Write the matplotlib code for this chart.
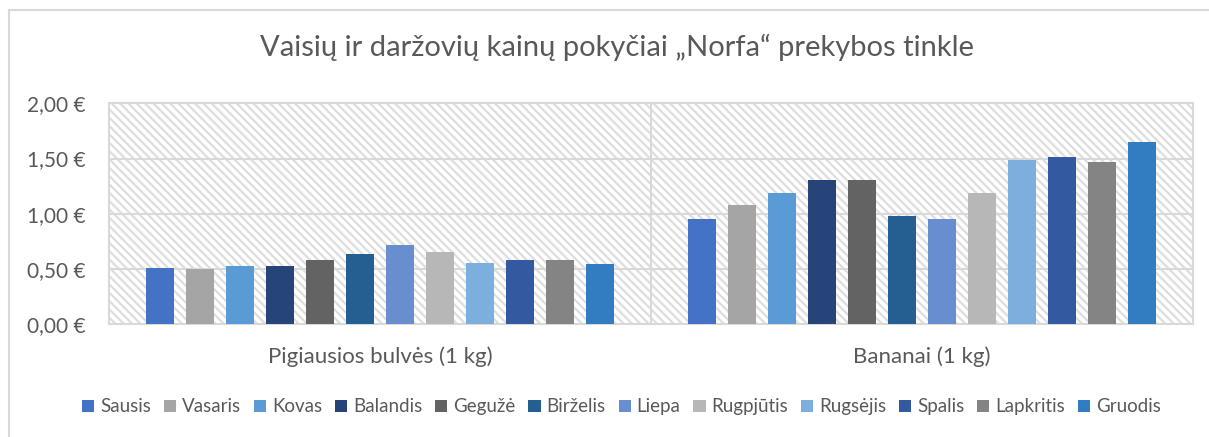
import matplotlib
matplotlib.use("Agg")
import matplotlib.pyplot as plt
from matplotlib.patches import Rectangle
from matplotlib.lines import Line2D
from matplotlib.ticker import FuncFormatter
import numpy as np

# Duomenys
kategorijos = ["Pigiausios bulvės (1 kg)", "Bananai (1 kg)"]
menesiai = ["Sausis", "Vasaris", "Kovas", "Balandis", "Gegužė", "Birželis",
            "Liepa", "Rugpjūtis", "Rugsėjis", "Spalis", "Lapkritis", "Gruodis"]
bulves = [0.51, 0.50, 0.53, 0.53, 0.585, 0.64, 0.715, 0.655, 0.55, 0.585, 0.585, 0.545]
bananai = [0.955, 1.08, 1.185, 1.31, 1.31, 0.98, 0.955, 1.185, 1.485, 1.515, 1.465, 1.645]
spalvos = ["#4472C4", "#A5A5A5", "#5B9BD5", "#264478", "#636363", "#255E91",
           "#698ED0", "#B7B7B7", "#7CAFDD", "#335AA1", "#848484", "#327DC2"]

tekstas = "#595959"
pilka = "#D9D9D9"

plt.rcParams['font.family'] = ['Lato', 'DejaVu Sans']
plt.rcParams['hatch.color'] = "#DEDEDE"
plt.rcParams['hatch.linewidth'] = 1.6

fig = plt.figure(figsize=(12.09, 4.37), dpi=100)
ax = fig.add_axes([0.0902, 0.258, 0.8966, 0.5057])

# Fonas su istrizomis linijomis
ax.add_patch(Rectangle((0, 0), 1, 1, transform=ax.transAxes, facecolor="white",
                       edgecolor="#DEDEDE", hatch="\\\\\\\\", lw=0, zorder=0))

zingsnis = 40 / 542
plotis = 27.6 / 542
x = np.arange(len(kategorijos))
for i, men in enumerate(menesiai):
    reiksmes = [bulves[i], bananai[i]]
    ax.bar(x + (i - 5.5) * zingsnis, reiksmes, width=plotis, color=spalvos[i],
           label=men, zorder=3)

ax.set_xlim(-0.5, 1.5)
ax.set_ylim(0, 2.0)
ax.set_yticks([0, 0.5, 1.0, 1.5, 2.0])
ax.yaxis.set_major_formatter(FuncFormatter(lambda v, p: f"{v:.2f}".replace(".", ",") + " €"))
ax.set_xticks(x)
ax.set_xticklabels(kategorijos)
ax.tick_params(axis="both", length=0, colors=tekstas)
ax.tick_params(axis="x", pad=16, labelsize=16)
ax.tick_params(axis="y", pad=17, labelsize=15)
ax.set_facecolor("none")

for y in [0.5, 1.0, 1.5]:
    ax.axhline(y, color=pilka, lw=1.5, zorder=1)
ax.axvline(0.5, color=pilka, lw=1.5, zorder=1)
for s in ax.spines.values():
    s.set_color(pilka)
    s.set_linewidth(1.5)

fig.text(0.51, 0.892, "Vaisių ir daržovių kainų pokyčiai „Norfa“ prekybos tinkle",
         ha="center", va="center", fontsize=21, color=tekstas)

fig.legend(loc="center", bbox_to_anchor=(0.514, 0.069), ncol=12, frameon=False,
           fontsize=13.5, handlelength=0.65, handleheight=0.65, handletextpad=0.3,
           columnspacing=0.7, labelcolor=tekstas)

# Remelio linijos
fig.add_artist(Line2D([8.5 / 1209, 8.5 / 1209], [0, 1 - 10 / 437], transform=fig.transFigure,
                      color=pilka, lw=1.5))
fig.add_artist(Line2D([8.5 / 1209, 1], [1 - 10 / 437, 1 - 10 / 437], transform=fig.transFigure,
                      color=pilka, lw=1.5))

fig.savefig("out.png", dpi=100)
